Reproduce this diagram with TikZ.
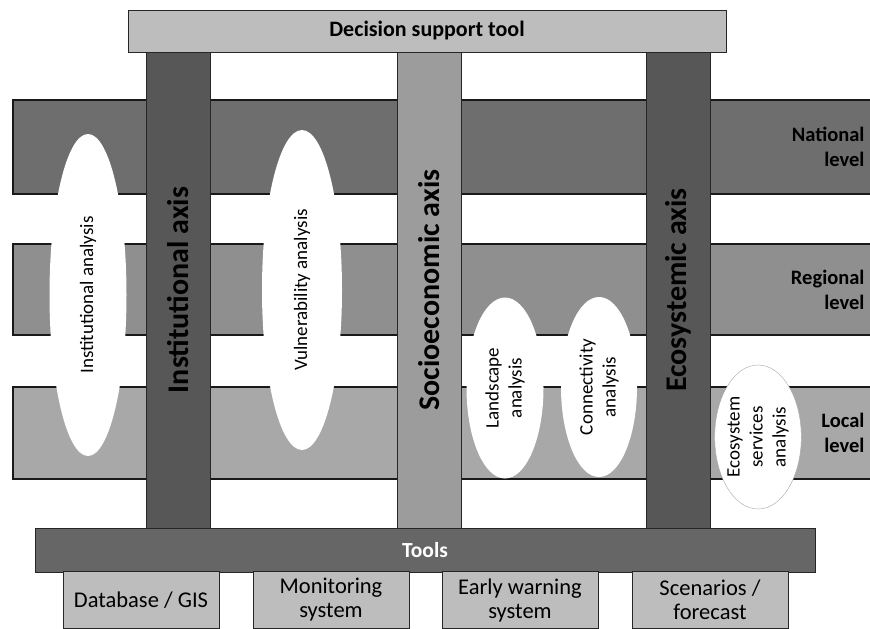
\documentclass[tikz,border=0pt]{standalone}
\usepackage{fontspec}
\setmainfont{Carlito}
\usetikzlibrary{shapes.geometric}

\definecolor{natgray}{gray}{0.43}
\definecolor{reggray}{gray}{0.56}
\definecolor{locgray}{gray}{0.66}
\definecolor{axdark}{gray}{0.34}
\definecolor{axlight}{gray}{0.61}
\definecolor{boxgray}{gray}{0.74}
\definecolor{toolgray}{gray}{0.40}

\begin{document}
\begin{tikzpicture}[x=1pt,y=-1pt,
    band/.style={draw=black!90, line width=1.2pt},
    axisbar/.style={draw=black!85, line width=0.8pt, rotate=90, minimum width=476pt,
      minimum height=64pt, inner sep=0pt, font=\fontsize{30}{31}\selectfont\bfseries},
    levellabel/.style={anchor=east, align=right, font=\fontsize{20.5}{25}\selectfont\bfseries},
    analysis/.style={ellipse, fill=white, rotate=90, inner sep=0pt, align=center,
      font=\fontsize{19}{23}\selectfont},
    toolbox/.style={draw=black!85, line width=0.8pt, fill=boxgray, minimum width=156pt,
      minimum height=57pt, inner sep=0pt, align=center, font=\fontsize{22.5}{24}\selectfont}]

    \useasboundingbox (0,0) rectangle (870,629);
    \fill[white] (0,0) rectangle (870,629);

    % Levels
    \filldraw[band, fill=natgray] (13,100) rectangle (874,194);
    \filldraw[band, fill=reggray] (13,244) rectangle (874,335);
    \filldraw[band, fill=locgray] (13,387) rectangle (874,479);
    \node[levellabel] (national) at (868,147) {National\\level};
    \node[levellabel] (regional) at (868,290) {Regional\\level};
    \node[levellabel] (local) at (868,433) {Local\\level};

    % Axes
    \node[axisbar, fill=axdark] (instaxis) at (178,290) {Institutional axis};
    \node[axisbar, fill=axlight] (socaxis) at (429,290) {Socioeconomic axis};
    \node[axisbar, fill=axdark] (ecoaxis) at (678,290) {Ecosystemic axis};

    % Analyses
    \node[analysis, minimum width=322pt, minimum height=77pt] (instan) at (88,295) {Institutional analysis};
    \node[analysis, minimum width=320pt, minimum height=80pt] (vulnan) at (302,290) {Vulnerability analysis};
    \node[analysis, minimum width=181pt, minimum height=77pt] (landan) at (505,388) {Landscape\\analysis};
    \node[analysis, minimum width=180pt, minimum height=76pt] (connan) at (599,387) {Connectivity\\analysis};
    \node[analysis, draw=black!35, minimum width=144pt, minimum height=70pt] (ecoan) at (758,437) {Ecosystem\\services\\analysis};

    % Decision support tool
    \node[draw=black!85, line width=1pt, fill=boxgray, minimum width=598pt, minimum height=42pt,
      font=\fontsize{22}{24}\selectfont\bfseries] (dst) at (427,31) {Decision support tool};

    % Tools
    \node[draw=black!85, line width=1pt, fill=toolgray, text=white, minimum width=780pt,
      minimum height=44pt, font=\fontsize{21.5}{24}\selectfont\bfseries] (tools) at (425,550) {Tools};
    \node[toolbox] (gis) at (141,600) {Database / GIS};
    \node[toolbox] (monit) at (331,600) {Monitoring\\system};
    \node[toolbox] (early) at (520,600) {Early warning\\system};
    \node[toolbox] (scen) at (710,600) {Scenarios /\\forecast};
\end{tikzpicture}
\end{document}
